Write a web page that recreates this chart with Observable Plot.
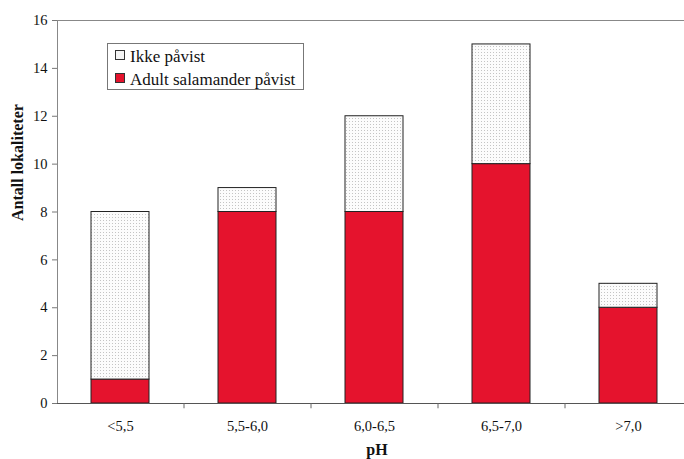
<!DOCTYPE html>
<html><head><meta charset="utf-8">
<script src="https://cdn.jsdelivr.net/npm/d3@7"></script>
<script src="https://cdn.jsdelivr.net/npm/@observablehq/plot@0.6"></script>
<style>
body{margin:0;background:#fff;}
#wrap{position:relative;width:684px;height:459px;overflow:hidden;font-family:"Liberation Serif";}
.legend{position:absolute;left:107px;top:43px;width:195px;height:45px;border:1px solid #777;background:#fff;}
.row{position:absolute;left:7px;height:17px;font-size:17px;line-height:17px;white-space:nowrap;color:#111;font-family:"Liberation Serif";}
.sw{display:inline-block;width:8px;height:8px;border:1px solid #333;margin-right:5px;vertical-align:2px;}
</style></head><body><div id="wrap"></div>
<script>
const categories = ["<5,5", "5,5-6,0", "6,0-6,5", "6,5-7,0", ">7,0"];
const seriesNames = ["Adult salamander påvist", "Ikke påvist"];
const adultValues = [1, 8, 8, 10, 4];
const ikkeValues = [7, 1, 4, 5, 1];
const yTicks = [0, 2, 4, 6, 8, 10, 12, 14, 16];
const legendOrder = ["Ikke påvist", "Adult salamander påvist"];

const data = [];
categories.forEach((c, i) => data.push({pH: c, group: seriesNames[0], count: adultValues[i]}));
categories.forEach((c, i) => data.push({pH: c, group: seriesNames[1], count: ikkeValues[i]}));

const W = 684, H = 459, ML = 57, MR = -8, MT = 20, MB = 56;
const step = (W - MR - ML) / categories.length;
const fills = {"Adult salamander påvist": "#e5132d", "Ikke påvist": "url(#dots)"};
const FONT = "Liberation Serif";

const plot = Plot.plot({
  width: W, height: H,
  marginLeft: ML, marginRight: MR, marginTop: MT, marginBottom: MB,
  style: {fontFamily: FONT, fontSize: "14px", background: "white", color: "#111"},
  x: {domain: categories, paddingInner: 0.54, paddingOuter: 0.27, label: null},
  y: {domain: [0, 16], label: null},
  color: {domain: seriesNames, range: seriesNames.map(s => fills[s])},
  marks: [
    Plot.frame({stroke: "#888"}),
    Plot.barY(data, {x: "pH", y: "count", fill: "group", stroke: "#222", strokeWidth: 1}),
    Plot.ruleY([0], {stroke: "#555"}),
    Plot.ruleX(categories, {x: d => d, y1: 0, y2: -0.22, dx: step / 2, stroke: "#666"}),
    Plot.axisY({ticks: yTicks, tickSize: 5, tickPadding: 5, fontSize: 14.5, stroke: "#777", fill: "#111", label: null}),
    Plot.axisX({tickSize: 0, tickPadding: 17, fontSize: 14.5, fill: "#111", label: null}),
    Plot.text(["pH"], {frameAnchor: "bottom", dy: 51, dx: 2, fontSize: 16, fontWeight: "bold", fill: "#111"}),
    Plot.text(["Antall lokaliteter"], {frameAnchor: "left", rotate: -90, dx: -40, dy: 9, fontSize: 16, fontWeight: "bold", fill: "#111"})
  ]
});

const svg = d3.select(plot);
svg.style("font-family", FONT);
svg.selectAll("text").style("font-family", FONT);
const defs = svg.insert("defs", ":first-child");
const pat = defs.append("pattern").attr("id", "dots").attr("patternUnits", "userSpaceOnUse").attr("width", 3).attr("height", 3);
pat.append("rect").attr("width", 3).attr("height", 3).attr("fill", "#fcfcfc");
pat.append("rect").attr("x", 1).attr("y", 1).attr("width", 1).attr("height", 1).attr("fill", "#c4c4c4");

const wrap = document.getElementById("wrap");
wrap.appendChild(plot);

const leg = document.createElement("div");
leg.className = "legend";
legendOrder.forEach((name, i) => {
  const row = document.createElement("div");
  row.className = "row";
  row.style.top = (4 + i * 23) + "px";
  const sw = document.createElement("span");
  sw.className = "sw";
  sw.style.background = name === "Ikke påvist" ? "#f4f4f4" : "#e5132d";
  row.appendChild(sw);
  row.appendChild(document.createTextNode(name));
  leg.appendChild(row);
});
wrap.appendChild(leg);
</script></body></html>
